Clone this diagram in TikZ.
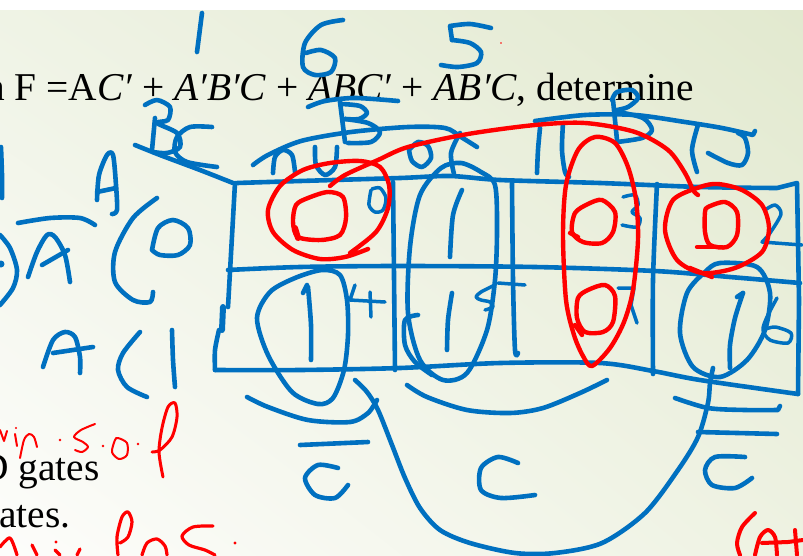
\documentclass[tikz,border=0pt]{standalone}
\usepackage{fontspec}
\setmainfont{Liberation Serif}
\usetikzlibrary{positioning,shadings}
\definecolor{inkblue}{RGB}{0,112,192}
\definecolor{inkred}{RGB}{255,0,0}
\definecolor{bgul}{RGB}{239,243,229}
\definecolor{bgur}{RGB}{226,233,207}
\definecolor{bgll}{RGB}{253,253,251}
\definecolor{bglr}{RGB}{238,242,226}

\begin{document}
\begin{tikzpicture}[x=1pt,y=-1pt,
  ink/.style={draw=inkblue,line width=4.6pt,line cap=round,line join=round},
  redink/.style={draw=inkred,line width=4.4pt,line cap=round,line join=round},
  thinred/.style={draw=inkred,line width=2pt,line cap=round,line join=round},
  slide/.style={font=\fontsize{39.4}{44}\selectfont,inner sep=0pt}]
\useasboundingbox (0,0) rectangle (803,555);
% slide background
\shade[upper left=bgul,upper right=bgur,lower left=bgll,lower right=bglr] (0,10) rectangle (803,555);
\fill[white] (0,0) rectangle (803,10);
% printed text
\node[slide,anchor=base west] (expr) at (-15,100) {n F =A\textit{C′} + \textit{A′B′C} + \textit{ABC′} + \textit{AB′C}, determine};
\node[slide,anchor=base west] (gates) at (-20,480) {D gates};
\node[slide,anchor=base west] (ates) at (-1,527) {ates.};

% k-map grid
\draw[ink] plot[smooth] coordinates {(237,183) (300,181) (400,178) (450,176) (500,180) (600,183) (700,187) (777,188)} -- (797,183) -- (798,240) -- (799,300) -- (798,394);
\draw[ink] plot[smooth] coordinates {(228,270) (300,267) (400,266) (535,267) (655,271) (730,277) (800,283)};
\draw[ink] plot[smooth] coordinates {(215,370) (300,370) (400,368) (500,363) (600,363) (653,371) (700,380) (798,394)};
\draw[ink] (235,183) -- (228,307);
\draw[ink,line width=6pt] (223,307) -- (222,330);
\draw[ink] plot[smooth] coordinates {(219,330) (215,350) (215,370)};
\draw[ink] (393,182) -- (395,370);
\draw[ink] plot[smooth] coordinates {(512,183) (513,280) (515,350) (518,353)};
\draw[ink] plot[smooth] coordinates {(657,184) (653,280) (653,374)};

% loops
\draw[ink] plot[smooth cycle] coordinates {(441,168) (461,163) (481,172) (495,185) (497,230) (495,280) (487,330) (467,373) (443,380) (420,360) (408,313) (410,247) (420,195)};
\draw[ink] plot[smooth] coordinates {(418,315) (405,320) (405,345) (415,362) (432,375)};
\draw[ink] plot[smooth cycle] coordinates {(257,318) (270,292) (295,278) (322,270) (340,275) (347,300) (348,335) (344,370) (333,398) (318,404) (292,392) (268,355)};
\draw[ink] plot[smooth cycle] coordinates {(720,263) (757,267) (770,293) (765,330) (747,360) (720,377) (693,367) (680,333) (687,293) (705,272)};

% ones and cell numbers
\draw[ink] plot[smooth] coordinates {(462,190) (453,215) (450,257)};
\draw[ink] plot[smooth] coordinates {(452,293) (448,320) (447,350)};
\draw[ink] (303,293) -- (307,285);
\draw[ink] plot[smooth] coordinates {(308,287) (311,325) (311,360)};
\draw[ink] (737,297) -- (743,293);
\draw[ink] plot[smooth] coordinates {(743,293) (735,318) (730,345) (730,368)};
\draw[ink,line width=3.5pt] plot[smooth] coordinates {(371,190) (369,205) (375,212) (383,210) (386,198) (380,188) (372,189)};
\draw[ink,line width=3.5pt] (355,285) -- (350,300) -- (385,302) (370,292) -- (371,317);
\draw[ink,line width=3.5pt] (498,283) -- (525,285);
\draw[ink,line width=3.5pt] plot[smooth] coordinates {(495,285) (481,292) (476,297) (481,300) (490,302) (493,307) (485,310)};
\draw[ink,line width=3.5pt] plot[smooth] coordinates {(623,197) (635,195) (638,205) (632,212) (640,218) (637,227) (622,225)};
\draw[ink,line width=3.5pt] (618,288) -- (634,288) -- (631,305) -- (637,323);
\draw[ink,line width=3.5pt] plot[smooth] coordinates {(765,210) (775,205) (781,214) (770,233) (762,242)} -- (802,245);
\draw[ink,line width=3.5pt] plot[smooth] coordinates {(777,298) (767,317) (763,330) (770,340) (788,343) (791,333) (775,327) (763,330)};

% row labels
\draw[ink] plot[smooth] coordinates {(1,147) (2,175) (2,198)};
\draw[ink] plot[smooth] coordinates {(0,235) (10,248) (17,270) (13,288) (0,305)};
\fill[inkblue] (1,264) circle (3.5);
\draw[ink] plot[smooth] coordinates {(18,223) (50,218) (80,218) (95,225)};
\draw[ink] plot[smooth] coordinates {(28,277) (37,252) (47,235) (55,237) (65,255) (70,282)};
\draw[ink] (42,265) -- (68,250);
\draw[ink] plot[smooth] coordinates {(157,198) (133,218) (115,252) (115,282) (133,300) (150,302) (153,292)};
\draw[ink] plot[smooth] coordinates {(152,250) (158,228) (173,220) (188,228) (190,245) (178,255) (160,255) (152,250)};
\draw[ink] plot[smooth] coordinates {(97,200) (99,175) (107,155) (113,155) (116,185) (117,210) (112,214)};
\draw[ink] (97,192) -- (116,188);
\draw[ink] plot[smooth] coordinates {(43,367) (53,340) (65,332) (75,337) (80,357) (80,373)};
\draw[ink] (53,353) -- (93,347);
\draw[ink] plot[smooth] coordinates {(140,332) (123,353) (118,370) (127,387) (147,397)};
\draw[ink] plot[smooth] coordinates {(172,330) (173,360) (175,387)};

% column labels
\draw[ink] (155,118) -- (152,150);
\draw[ink] plot[smooth] coordinates {(145,105) (157,100) (170,107) (168,120) (157,123) (177,133) (180,147) (167,153) (153,152)};
\draw[ink] plot[smooth] coordinates {(212,127) (190,127) (177,137) (175,152) (187,162) (217,167)};
\draw[ink] plot[smooth] coordinates {(135,145) (160,155) (200,170) (233,183)};
\draw[ink] plot[smooth] coordinates {(253,165) (268,155) (301,141) (351,132) (408,127) (445,128) (461,137) (477,147)};
\draw[ink] plot[smooth] coordinates {(308,107) (325,101) (355,98) (398,101)};
\draw[ink] (340,102) -- (345,142);
\draw[ink] plot[smooth] coordinates {(342,104) (360,106) (367,113) (359,119) (345,119)};
\draw[ink] plot[smooth] coordinates {(345,119) (368,123) (380,132) (371,142) (348,143)};
\draw[ink] plot[smooth] coordinates {(273,173) (275,157) (283,150) (292,155) (295,172)};
\draw[ink] plot[smooth] coordinates {(315,147) (316,165) (325,175) (335,167) (337,147)};
\draw[ink] plot[smooth] coordinates {(409,150) (418,142) (428,146) (431,158) (422,167) (412,161) (409,150)};
\draw[ink] plot[smooth] coordinates {(460,133) (451,153) (454,174)};
\draw[ink] plot[smooth] coordinates {(540,128) (538,150) (537,173)};
\draw[ink] plot[smooth] coordinates {(563,123) (562,150) (565,172) (569,177)};
\draw[ink] plot[smooth] coordinates {(698,125) (692,150) (697,172)};
\draw[ink] plot[smooth] coordinates {(708,153) (728,163) (742,165) (748,153) (745,138) (738,133)};
\draw[ink] plot[smooth] coordinates {(535,121) (585,115) (635,115) (685,122) (722,128) (753,135)} -- (755,131);
\draw[ink] (613,100) -- (617,140);
\draw[ink] plot[smooth] coordinates {(612,100) (617,92) (632,90) (638,98) (628,107) (617,110)};
\draw[ink] plot[smooth] coordinates {(618,112) (643,118) (652,130) (642,138) (617,142)};
% cell counts on top
\draw[ink] (202,13) -- (197,52);
\draw[ink] plot[smooth] coordinates {(343,20) (321,25) (305,43) (303,67) (315,75) (331,72) (335,58) (321,50) (306,53)};
\draw[ink] plot[smooth] coordinates {(491,28) (470,24) (450,26)} -- (452,40);
\draw[ink] plot[smooth] coordinates {(452,40) (470,43) (481,52) (477,63) (458,67) (441,65)};

% brackets and letters below
\draw[ink] plot[smooth] coordinates {(247,397) (268,407) (308,420) (350,422) (368,413) (377,400)};
\draw[ink] (300,445) -- (368,442);
\draw[ink] plot[smooth] coordinates {(338,468) (318,465) (305,478) (315,495) (335,498) (348,485)};
\draw[ink] plot[smooth] coordinates {(355,380) (367,392) (378,410) (392,445) (405,478) (420,508) (440,530) (470,543) (515,553) (555,553) (602,543) (645,513) (678,470) (698,437) (708,403) (710,383) (713,368)};
\draw[ink] plot[smooth] coordinates {(407,385) (427,397) (467,410) (510,413) (543,408) (580,393) (607,380)};
\draw[ink] plot[smooth] coordinates {(518,463) (498,457) (481,468) (481,490) (501,498) (535,495)};
\draw[ink] plot[smooth] coordinates {(675,398) (708,408) (745,410) (778,410)} -- (780,406);
\draw[ink] (698,432) -- (777,434);
\draw[ink] plot[smooth] coordinates {(745,457) (715,457) (705,470) (712,485) (735,488) (752,478)};

% red groups
\draw[redink] plot[smooth] coordinates {(368,249) (345,257) (320,259) (293,250) (273,232) (268,210) (280,186) (303,170) (330,163) (360,161) (380,167) (389,185) (388,208) (376,232) (350,253)};
\draw[redink] plot[smooth cycle] coordinates {(308,198) (328,192) (343,197) (346,218) (340,235) (321,240) (298,237) (293,222) (296,205)};
\draw[redink,line width=6pt] (295,228) -- (298,238);
\draw[redink] plot[smooth] coordinates {(330,186) (345,175) (378,160) (408,147) (468,134) (535,125) (585,123) (635,132) (668,150) (685,173) (693,190) (698,195)};
\draw[redink] plot[smooth cycle] coordinates {(595,137) (615,143) (628,167) (636,200) (638,240) (633,290) (624,322) (610,348) (592,366) (583,356) (574,335) (566,300) (563,235) (566,185) (578,150)};
\draw[redink] plot[smooth cycle] coordinates {(588,204) (602,200) (615,212) (613,232) (602,243) (583,242) (572,232) (575,213)};
\draw[redink] (570,233) -- (578,237);
\draw[redink] plot[smooth cycle] coordinates {(588,290) (605,285) (615,296) (613,322) (603,332) (585,332) (577,318) (578,298)};
\draw[redink] (575,325) -- (582,335);
\draw[redink] plot[smooth cycle] coordinates {(700,187) (673,200) (665,230) (677,260) (702,273) (735,268) (762,252) (769,228) (762,205) (742,190) (718,184)};
\draw[redink] (690,268) -- (712,277);
\draw[redink] plot[smooth cycle] coordinates {(708,207) (725,202) (737,212) (737,235) (727,247) (710,245) (705,232) (705,212)};
\draw[redink] (697,247) -- (722,247);
\fill[inkred] (501,43) circle (0.8);

% red notes
\draw[thinred] (0,430) -- (4,441) -- (7,431);
\fill[inkred] (16,428) circle (1.2) (60,440) circle (1.4) (103,446) circle (1.4) (138,444) circle (1.4);
\draw[thinred] (15,434) -- (17,446);
\draw[thinred] plot[smooth] coordinates {(20,458) (24,440) (29,434) (34,437) (37,447)};
\draw[thinred] plot[smooth] coordinates {(95,424) (81,430) (74,437) (83,442) (88,447) (82,452) (75,450)};
\draw[thinred] plot[smooth cycle] coordinates {(115,440) (112,452) (119,459) (127,455) (127,443) (118,438)};
\draw[thinred,line width=3pt] plot[smooth] coordinates {(163,477) (159,452) (162,428) (168,407) (175,403) (177,417) (172,437) (160,450) (152,452)};
\draw[thinred,line width=3.2pt] plot[smooth] coordinates {(0,547) (10,538) (17,555)};
\draw[thinred,line width=3.2pt] (32,545) -- (37,555) (55,550) -- (60,555) (77,555) -- (80,549);
\fill[inkred] (56,542) circle (1.6) (235,543) circle (1.6);
\draw[thinred,line width=3.2pt] plot[smooth] coordinates {(118,555) (117,537) (122,517) (128,512) (132,522) (128,537) (120,543)};
\draw[thinred,line width=3.2pt] plot[smooth] coordinates {(142,555) (147,543) (157,539) (165,546) (167,555)};
\draw[thinred,line width=3.2pt] plot[smooth] coordinates {(213,526) (193,527) (182,536) (189,545) (205,550) (215,555)};
\draw[redink,line width=4pt] plot[smooth] coordinates {(755,513) (742,527) (737,543) (740,555)};
\draw[redink,line width=4pt] plot[smooth] coordinates {(755,555) (760,537) (768,530) (775,537) (777,555)};
\draw[redink,line width=4pt] (762,543) -- (788,542) (795,530) -- (797,555) (788,542) -- (803,540);
\end{tikzpicture}
\end{document}
